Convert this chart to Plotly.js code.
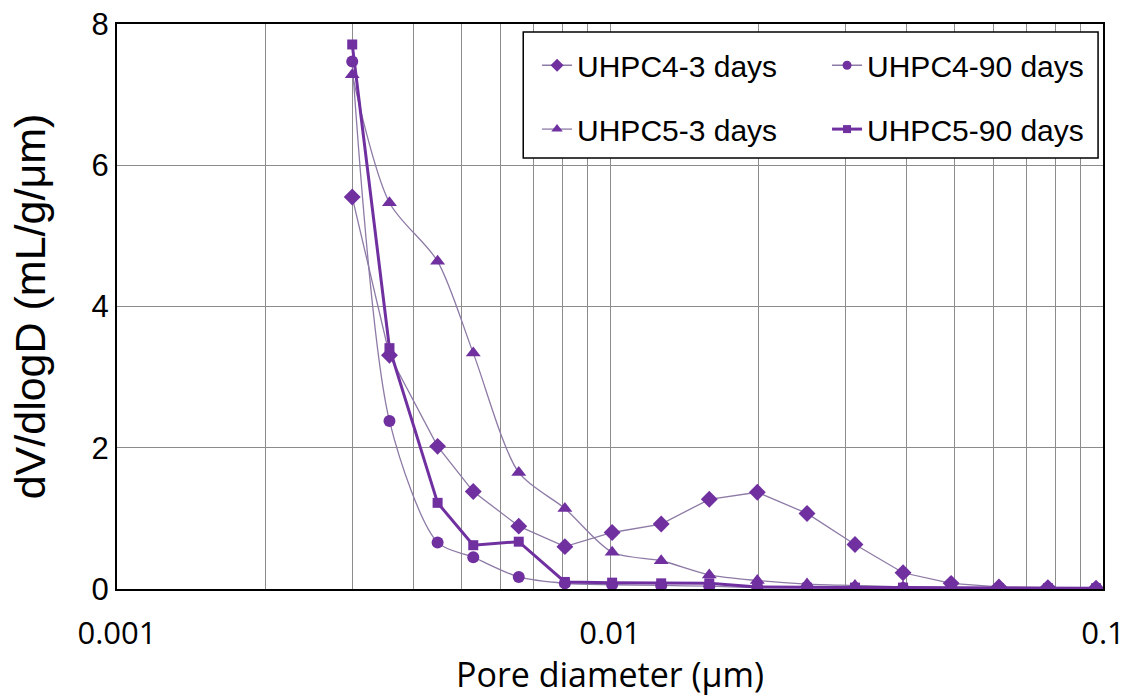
<!DOCTYPE html>
<html>
<head>
<meta charset="utf-8">
<script src="https://cdn.plot.ly/plotly-3.0.1.min.js"></script>
<style>html,body{margin:0;padding:0;background:#fff;}#chart{width:1129px;height:697px;}</style>
</head>
<body>
<div id="chart"></div>
<script>
// Pore diameter (µm)
const poreDiameter = [0.003, 0.00357, 0.00447, 0.00528, 0.00653, 0.0081, 0.0101, 0.0127, 0.0159, 0.0199, 0.0251, 0.0314, 0.0393, 0.0492, 0.0615, 0.0773, 0.0968];
// dV/dlogD (mL/g/µm)
const uhpc4_3d  = [5.55, 3.31, 2.02, 1.38, 0.89, 0.60, 0.80, 0.92, 1.27, 1.37, 1.07, 0.63, 0.23, 0.08, 0.03, 0.02, 0.01];
const uhpc4_90d = [7.47, 2.38, 0.66, 0.45, 0.17, 0.08, 0.06, 0.05, 0.04, 0.02, 0.02, 0.01, 0.01, 0.01, 0.01, 0.01, 0.01];
const uhpc5_3d  = [7.28, 5.47, 4.64, 3.34, 1.65, 1.14, 0.52, 0.40, 0.20, 0.12, 0.07, 0.05, 0.03, 0.02, 0.02, 0.01, 0.01];
const uhpc5_90d = [7.71, 3.41, 1.22, 0.62, 0.67, 0.10, 0.09, 0.08, 0.08, 0.03, 0.02, 0.02, 0.02, 0.02, 0.01, 0.01, 0.01];
const seriesNames = ['UHPC4-3 days', 'UHPC4-90 days', 'UHPC5-3 days', 'UHPC5-90 days'];

const xTickVals = [0.001,0.002,0.003,0.004,0.005,0.006,0.007,0.008,0.009,0.01,0.02,0.03,0.04,0.05,0.06,0.07,0.08,0.09,0.1];
const xTickText = ['0.001','','','','','','','','','0.01','','','','','','','','','0.1'];

const purple = '#7030A0';
const thin = '#8d7aa6';

const seriesValues = [uhpc4_3d, uhpc4_90d, uhpc5_3d, uhpc5_90d];
const styles = [
  {line: {color: thin, width: 1.3}, symbol: 'diamond', size: 13, lsize: 10, legend: 'legend'},
  {line: {color: thin, width: 1.3, shape: 'spline', smoothing: 0.8}, symbol: 'circle', size: 12, lsize: 9, legend: 'legend'},
  {line: {color: thin, width: 1.3, shape: 'spline', smoothing: 0.8}, symbol: 'triangle-up', size: 13, lsize: 10, legend: 'legend2'},
  {line: {color: purple, width: 3}, symbol: 'square', size: 10, lsize: 8, legend: 'legend2'}
];

const traces = [];
seriesValues.forEach((vals, i) => {
  const s = styles[i];
  traces.push({x: poreDiameter, y: vals, name: seriesNames[i], mode: 'lines+markers',
    line: s.line, marker: {symbol: s.symbol, size: s.size, color: purple}, showlegend: false});
});
// legend entries (smaller legend markers, as in the original)
seriesValues.forEach((vals, i) => {
  const s = styles[i];
  traces.push({x: [null], y: [null], name: seriesNames[i], mode: 'lines+markers',
    line: {color: s.line.color, width: s.line.width}, marker: {symbol: s.symbol, size: s.lsize, color: purple},
    legend: s.legend, showlegend: true});
});

const legendCommon = {
  orientation: 'h', xref: 'paper', yref: 'paper', xanchor: 'left', yanchor: 'middle',
  font: {family: 'Liberation Sans, Arial, sans-serif', size: 30, color: '#000'},
  bgcolor: 'rgba(0,0,0,0)', borderwidth: 0, entrywidth: 245, entrywidthmode: 'pixels', itemwidth: 30
};

const layout = {
  width: 1129, height: 697,
  margin: {l: 117, r: 24, t: 24, b: 108},
  paper_bgcolor: '#fff', plot_bgcolor: '#fff',
  showlegend: true,
  xaxis: {
    type: 'log', range: [-3, -1], tickvals: xTickVals, ticktext: xTickText,
    showgrid: true, gridcolor: '#8c8c8c', gridwidth: 1,
    showline: true, linecolor: '#000', linewidth: 2, mirror: true,
    ticks: '', ticklabelstandoff: 16, zeroline: false,
    tickfont: {family: 'Open Sans, Noto Sans, sans-serif', size: 31, color: '#000'},
    title: {text: 'Pore diameter (μm)', font: {family: 'Open Sans, Noto Sans, sans-serif', size: 34, color: '#000'}, standoff: 6}
  },
  yaxis: {
    range: [0, 8], dtick: 2, tick0: 0,
    showgrid: true, gridcolor: '#8c8c8c', gridwidth: 1,
    showline: true, linecolor: '#000', linewidth: 2, mirror: true,
    ticks: '', zeroline: false, ticklabelstandoff: 0,
    tickfont: {family: 'Liberation Sans, Arial, sans-serif', size: 31, color: '#000'},
    title: {text: 'dV/dlogD (mL/g/μm)', font: {family: 'Liberation Sans, Arial, sans-serif', size: 43, color: '#000'}, standoff: 32}
  },
  legend: Object.assign({}, legendCommon, {x: 0.426, y: 0.927}),
  legend2: Object.assign({}, legendCommon, {x: 0.426, y: 0.814}),
  shapes: [{
    type: 'rect', xref: 'paper', yref: 'paper', x0: 0.412, x1: 0.995, y0: 0.763, y1: 0.986,
    line: {color: '#000', width: 1.5}, fillcolor: '#fff', layer: 'above'
  }]
};

Plotly.newPlot('chart', traces, layout, {displayModeBar: false, staticPlot: true});
</script>
</body>
</html>
